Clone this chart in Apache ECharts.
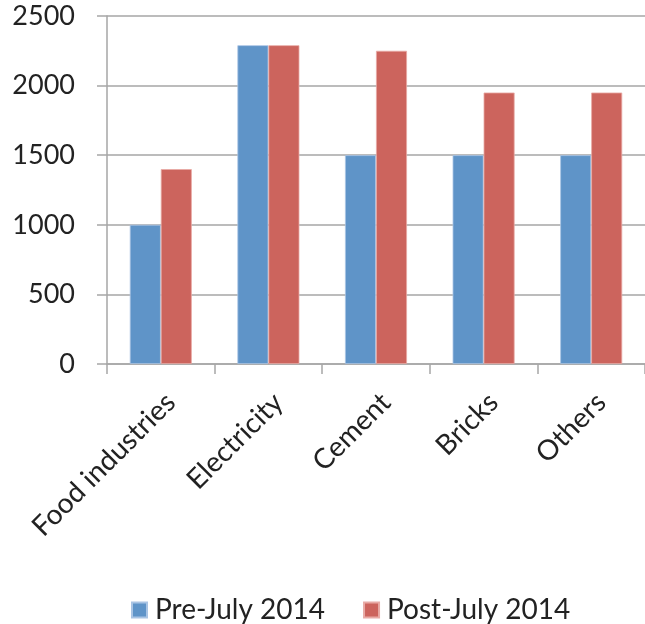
<!DOCTYPE html>
<html>
<head>
<meta charset="utf-8">
<script src="https://cdn.jsdelivr.net/npm/echarts@6/dist/echarts.min.js"></script>
<style>
  html, body { margin: 0; padding: 0; background: #fff; }
  #chart { width: 645px; height: 624px; }
</style>
</head>
<body>
<div id="chart"></div>
<script>
// Sectors and their consumption before / after July 2014
const categories = ['Food industries', 'Electricity', 'Cement', 'Bricks', 'Others'];
const preJuly = [1000, 2290, 1500, 1500, 1500];
const postJuly = [1400, 2290, 2250, 1950, 1950];
const seriesNames = ['Pre-July 2014', 'Post-July 2014'];

const FONT = 'Lato, "Open Sans", sans-serif';
const GRID_COLOR = '#a6a6a6';
const TEXT_COLOR = '#222';

const chart = echarts.init(document.getElementById('chart'));
chart.setOption({
  animation: false,
  textStyle: { fontFamily: FONT },
  grid: { left: 107, top: 16, width: 546, height: 348, containLabel: false },
  legend: {
    left: 126,
    top: 591,
    itemWidth: 15,
    itemHeight: 15,
    itemGap: 38,
    icon: 'rect',
    textStyle: {
      fontSize: 28,
      color: TEXT_COLOR,
      fontFamily: FONT,
      padding: [0, 0, 0, 3]
    },
    data: seriesNames
  },
  xAxis: {
    type: 'category',
    data: categories,
    axisLine: { lineStyle: { color: GRID_COLOR, width: 1.5 } },
    axisTick: { show: true, length: 10, lineStyle: { color: GRID_COLOR, width: 1.5 } },
    axisLabel: {
      interval: 0,
      rotate: 45,
      margin: 24,
      fontSize: 28,
      lineHeight: 28,
      verticalAlign: 'top',
      color: TEXT_COLOR,
      fontFamily: FONT
    }
  },
  yAxis: {
    type: 'value',
    min: 0,
    max: 2500,
    interval: 500,
    axisLine: { show: true, lineStyle: { color: GRID_COLOR, width: 1.5 } },
    axisTick: { show: true, length: 10, lineStyle: { color: GRID_COLOR, width: 1.5 } },
    splitLine: { lineStyle: { color: GRID_COLOR, width: 1.5 } },
    axisLabel: {
      margin: 32,
      fontSize: 27,
      color: TEXT_COLOR,
      fontFamily: FONT,
      formatter: v => String(v)
    }
  },
  series: [
    {
      name: seriesNames[0],
      type: 'bar',
      data: preJuly,
      barWidth: 31,
      barGap: '0%',
      itemStyle: { color: '#5f94c8', borderColor: '#a9c4e4', borderWidth: 0.8 }
    },
    {
      name: seriesNames[1],
      type: 'bar',
      data: postJuly,
      barWidth: 31,
      barGap: '0%',
      itemStyle: { color: '#cc645d', borderColor: '#e8aaa5', borderWidth: 0.8 }
    }
  ]
});
</script>
</body>
</html>
